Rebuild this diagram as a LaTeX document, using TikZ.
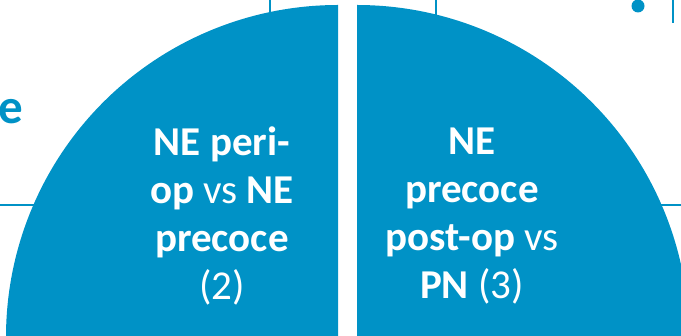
\documentclass[tikz,border=0pt]{standalone}
\usepackage{fontspec}
\setmainfont{Carlito}
\definecolor{qblue}{RGB}{0,146,198}
\tikzset{
  quad/.style={fill=qblue, draw=none},
  guide/.style={draw=qblue, line width=2pt},
  qtext/.style={text=white, align=center, inner sep=0pt, font=\fontsize{41}{48}\selectfont\bfseries},
}
\begin{document}
\begin{tikzpicture}[x=1pt,y=1pt]
\useasboundingbox (0,0) rectangle (681,336);
\clip (0,0) rectangle (681,336);
% guide lines behind the quadrants
\coordinate (g1a) at (270,340); \coordinate (g1b) at (270,315);
\coordinate (g2a) at (436,340); \coordinate (g2b) at (436,315);
\coordinate (g3a) at (673,340); \coordinate (g3b) at (673,313);
\coordinate (h1a) at (-5,131); \coordinate (h1b) at (45,131);
\coordinate (h2a) at (650,131); \coordinate (h2b) at (690,131);
\draw[guide] (g1a) -- (g1b);
\draw[guide] (g2a) -- (g2b);
\draw[guide] (g3a) -- (g3b);
\draw[guide] (h1a) -- (h1b);
\draw[guide] (h2a) -- (h2b);
\fill[qblue] (638,330) circle (6.5);
\node[anchor=base west, inner sep=0pt, text=qblue, font=\fontsize{49}{56}\selectfont\bfseries] (etxt) at (-1.5,212) {e};
% quadrants
\path[quad] (338,-10) -- (338,331) arc[start angle=90, end angle=185, radius=332] -- cycle;
\path[quad] (357,-10) -- (357,331) arc[start angle=90, end angle=-5, radius=332] -- cycle;
% texts
\node[qtext] (left) at (222,120.5) {NE peri-\\op {\mdseries vs} NE\\precoce\\{\mdseries (2)}};
\node[qtext] (right) at (472,119.5) {NE\\precoce\\post-op {\mdseries vs}\\PN {\mdseries (3)}};
\end{tikzpicture}
\end{document}
